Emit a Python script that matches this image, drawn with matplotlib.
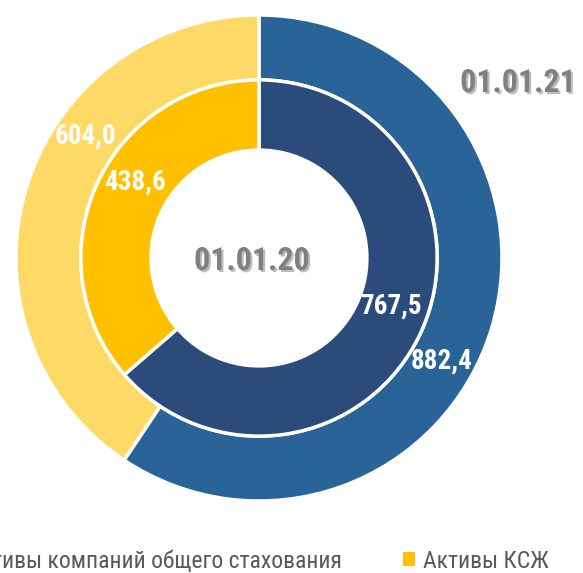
import matplotlib
matplotlib.use("Agg")
import matplotlib.pyplot as plt
import matplotlib.patheffects as pe
from matplotlib.patches import Patch
import numpy as np

# Data
categories = ["Активы компаний общего стахования", "Активы КСЖ"]
values_2021 = [882.4, 604.0]   # outer ring
values_2020 = [767.5, 438.6]   # inner ring
labels_2021 = ["882,4", "604,0"]
labels_2020 = ["767,5", "438,6"]

outer_colors = ["#2A6398", "#FFD966"]
inner_colors = ["#2B4C7B", "#FFC000"]
FONT = ["Liberation Sans Narrow", "DejaVu Sans Condensed", "Roboto Condensed",
        "Open Sans Condensed", "DejaVu Sans"]

fig = plt.figure(figsize=(5.83, 5.73), dpi=100)
ax = fig.add_axes([16 / 583, 72 / 573, 486 / 583, 486 / 573])

wp = dict(edgecolor="white", linewidth=2.5)
ax.pie(values_2021, radius=1.0, colors=outer_colors, startangle=90,
       counterclock=False, wedgeprops=dict(width=0.267, **wp))
ax.pie(values_2020, radius=0.733, colors=inner_colors, startangle=90,
       counterclock=False, wedgeprops=dict(width=0.289, **wp))
ax.set_xlim(-1, 1)
ax.set_ylim(-1, 1)
ax.set_aspect("equal")
ax.axis("off")


def polar(r, deg):
    a = np.deg2rad(deg)
    return r * np.cos(a), r * np.sin(a)


# value labels (radius, angle) placement
for lab, (r, ang) in zip(labels_2021, [(0.864, -29.4), (0.874, 145.0)]):
    x, y = polar(r, ang)
    ax.text(x, y, lab, color="white", fontsize=19.5, fontweight="bold",
            family=FONT, ha="center", va="center")
for lab, (r, ang) in zip(labels_2020, [(0.577, -20.0), (0.598, 148.5)]):
    x, y = polar(r, ang)
    ax.text(x, y, lab, color="white", fontsize=19.5, fontweight="bold",
            family=FONT, ha="center", va="center")

shadow = [pe.SimplePatchShadow(offset=(1.5, -1.5), alpha=0.3), pe.Normal()]
fig.text(252 / 583, 1 - 261 / 573, "01.01.20", color="#808080", fontsize=23,
         fontweight="bold", family=FONT, ha="center", va="center",
         path_effects=shadow)
fig.text(518 / 583, 1 - 83 / 573, "01.01.21", color="#808080", fontsize=23,
         fontweight="bold", family=FONT, ha="center", va="center",
         path_effects=shadow)

handles = [Patch(facecolor=c, label=l) for c, l in zip(inner_colors, categories)]
leg = fig.legend(handles=handles, loc="center right", ncol=2,
                 bbox_to_anchor=(549 / 583, 12 / 573), frameon=False,
                 prop=dict(family=FONT, size=17), handlelength=0.5,
                 handleheight=0.5, handletextpad=0.34, columnspacing=2.6,
                 borderpad=0, borderaxespad=0)
for t in leg.get_texts():
    t.set_color("#595959")

fig.savefig("out.png", dpi=100)
